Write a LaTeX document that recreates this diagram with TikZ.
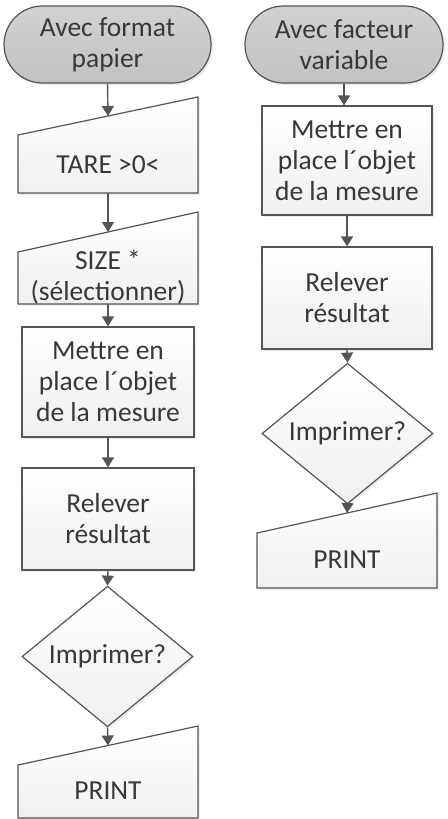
\documentclass[tikz,border=0pt]{standalone}
\usepackage{fontspec}
\setmainfont{Carlito}
\usetikzlibrary{arrows.meta,shapes.geometric,shapes.misc,shadows}
\definecolor{edge}{HTML}{555555}
\definecolor{txt}{HTML}{383838}
\tikzset{
  arr/.style={draw=edge, line width=1.4pt, -{Triangle[width=12pt,length=10pt]}},
  shp/.style={draw=edge, line width=1.2pt, top color=white, bottom color=black!6,
    drop shadow={opacity=0.15, shadow xshift=2pt, shadow yshift=-2pt}},
  lbl/.style={text=txt, font=\fontsize{27.5}{31}\selectfont, align=center, inner sep=0pt},
  boxnode/.style={shp, lbl, rectangle},
  termnode/.style={lbl, rounded rectangle, draw=edge, line width=1.2pt,
    top color=black!18, bottom color=black!24,
    drop shadow={opacity=0.15, shadow xshift=2pt, shadow yshift=-2pt}},
  decnode/.style={shp, lbl, diamond},
}
\begin{document}
\begin{tikzpicture}[x=1pt,y=-1pt]
\useasboundingbox[fill=white] (0,0) rectangle (447,819);

% ---------- left column ----------
\node[termnode, minimum width=207pt, minimum height=77pt] (t1) at (107.5,44.5) {Avec format\\papier};

\path[shp] (18,193) -- (198,193) -- (198,97) -- (18,135) -- cycle;
\coordinate (tareTop) at (108,116);
\coordinate (tareBot) at (108,193);
\node[lbl] (tare) at (108,165) {TARE >0<};

\path[shp] (18,304) -- (198,304) -- (198,212) -- (18,252) -- cycle;
\coordinate (sizeTop) at (108,232);
\coordinate (sizeBot) at (108,304);
\node[lbl] (size) at (108,277) {SIZE *\\(sélectionner)};

\node[boxnode, minimum width=172pt, minimum height=110pt] (m1) at (108,382) {Mettre en\\place l´objet\\de la mesure};
\node[boxnode, minimum width=172pt, minimum height=102pt] (r1) at (108,519) {Relever\\résultat};
\node[decnode, minimum width=171pt, minimum height=101pt] (d1) at (107.5,656.5) {Imprimer?};

\path[shp] (18,818) -- (198,818) -- (198,726) -- (18,765) -- cycle;
\coordinate (p1Top) at (108,745.5);
\node[lbl] (p1) at (108,791) {PRINT};

\draw[arr] (t1.south) -- (tareTop);
\draw[arr] (tareBot) -- (sizeTop);
\draw[arr] (sizeBot) -- (m1.north);
\draw[arr] (m1.south) -- (r1.north);
\draw[arr] (r1.south) -- (d1.north);
\draw[arr] (d1.south) -- (p1Top);

% ---------- right column ----------
\node[termnode, minimum width=198pt, minimum height=77pt] (t2) at (344,44.5) {Avec facteur\\variable};
\node[boxnode, minimum width=170pt, minimum height=109pt] (m2) at (347,160.5) {Mettre en\\place l´objet\\de la mesure};
\node[boxnode, minimum width=170pt, minimum height=102pt] (r2) at (347,298) {Relever\\résultat};
\node[decnode, minimum width=171pt, minimum height=101pt] (d2) at (347.5,433.5) {Imprimer?};

\path[shp] (257,588) -- (437,588) -- (437,493) -- (257,533) -- cycle;
\coordinate (p2Top) at (347,513);
\node[lbl] (p2) at (347,560) {PRINT};

\draw[arr] (t2.south) -- (t2.south |- m2.north);
\draw[arr] (m2.south) -- (r2.north);
\draw[arr] (r2.south) -- (d2.north);
\draw[arr] (d2.south) -- (p2Top);
\end{tikzpicture}
\end{document}
